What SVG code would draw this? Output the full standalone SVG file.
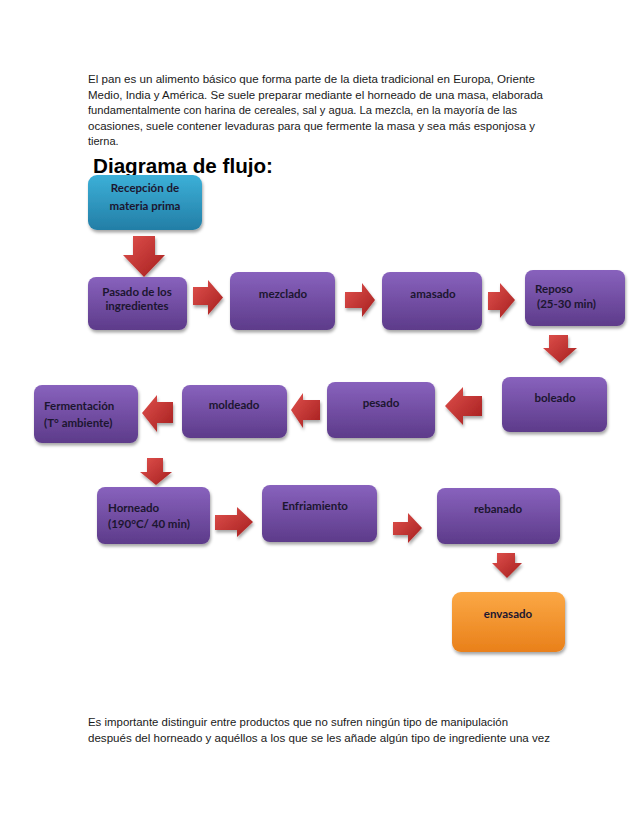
<svg xmlns="http://www.w3.org/2000/svg" width="638" height="826" viewBox="0 0 638 826">
<defs>
<linearGradient id="gp" x1="0" y1="0" x2="0" y2="1"><stop offset="0" stop-color="#8862bd"/><stop offset="1" stop-color="#5d3b8a"/></linearGradient>
<linearGradient id="gt" x1="0" y1="0" x2="0" y2="1"><stop offset="0" stop-color="#3cb0d8"/><stop offset="1" stop-color="#237ea6"/></linearGradient>
<linearGradient id="go" x1="0" y1="0" x2="0" y2="1"><stop offset="0" stop-color="#fba845"/><stop offset="1" stop-color="#e9801a"/></linearGradient>
<linearGradient id="gr" x1="0" y1="0" x2="1" y2="1"><stop offset="0" stop-color="#e0514d"/><stop offset="1" stop-color="#a51e1e"/></linearGradient>
<filter id="sh" x="-10%" y="-10%" width="125%" height="135%"><feDropShadow dx="1" dy="2.5" stdDeviation="1.5" flood-color="#000" flood-opacity="0.35"/></filter>
</defs>
<style>
.p{font-family:"Liberation Sans",Arial,sans-serif;font-size:11px;fill:#1a1a1a}
.h{font-family:"Liberation Sans",Arial,sans-serif;font-size:20px;font-weight:bold;fill:#000}
.b{fill:url(#gp);filter:url(#sh)}
.t{font-family:Lato,"Open Sans",sans-serif;font-size:11.5px;font-weight:bold;fill:#1c1630}
.c{text-anchor:middle}
.a{fill:url(#gr);filter:url(#sh)}
</style>
<rect width="638" height="826" fill="#fff"/>
<g id="intro">
<text class="p" x="88" y="83" textLength="447" lengthAdjust="spacingAndGlyphs">El pan es un alimento básico que forma parte de la dieta tradicional en Europa, Oriente</text>
<text class="p" x="88" y="98.6" textLength="455" lengthAdjust="spacingAndGlyphs">Medio, India y América. Se suele preparar mediante el horneado de una masa, elaborada</text>
<text class="p" x="88" y="114.2" textLength="429" lengthAdjust="spacingAndGlyphs">fundamentalmente con harina de cereales, sal y agua. La mezcla, en la mayoría de las</text>
<text class="p" x="88" y="129.8" textLength="447" lengthAdjust="spacingAndGlyphs">ocasiones, suele contener levaduras para que fermente la masa y sea más esponjosa y</text>
<text class="p" x="88" y="145.4">tierna.</text>
</g>
<text class="h" x="93" y="173" textLength="180" lengthAdjust="spacingAndGlyphs">Diagrama de flujo:</text>
<g id="connectors">
<path class="a" d="M133,236 H155 V255 H165 L144,277 L123,255 H133 Z"/>
<path class="a" d="M193,287 H208 V280 L223,297.5 L208,315 V305 H193 Z"/>
<path class="a" d="M345,292 H362 V283 L375,300 L362,317 V308 H345 Z"/>
<path class="a" d="M488,292 H500 V283 L515,300 L500,318 V310 H488 Z"/>
<path class="a" d="M549,335 H568 V348 H577 L560,363 L543,348 H549 Z"/>
<path class="a" d="M482,396 H463 V387 L445,406 L463,425 V416 H482 Z"/>
<path class="a" d="M320,400 H303 V393 L291,410 L303,428 V420 H320 Z"/>
<path class="a" d="M173,402 H157 V395 L142,413 L157,432 V423 H173 Z"/>
<path class="a" d="M147,458 H163 V472 H172 L156,485 L140,472 H147 Z"/>
<path class="a" d="M215,515 H237 V507 L253,522 L237,537 V530 H215 Z"/>
<path class="a" d="M393,522 H408 V513 L422,528 L408,543 V535 H393 Z"/>
<path class="a" d="M497,553 H515 V563 H522 L507,578 L492,563 H497 Z"/>
</g>
<g id="n1"><rect x="88" y="175" width="114" height="55" rx="9" fill="url(#gt)" filter="url(#sh)"/>
<text class="t c" x="145" y="192">Recepción de</text><text class="t c" x="145" y="210">materia prima</text></g>
<g id="n2"><rect class="b" x="88" y="277" width="99" height="53" rx="8"/>
<text class="t c" x="137" y="296">Pasado de los</text><text class="t c" x="137" y="310">ingredientes</text></g>
<g id="n3"><rect class="b" x="230" y="272" width="105" height="58" rx="8"/>
<text class="t c" x="283" y="298">mezclado</text></g>
<g id="n4"><rect class="b" x="382" y="272" width="100" height="58" rx="8"/>
<text class="t c" x="433" y="298">amasado</text></g>
<g id="n5"><rect class="b" x="525" y="270" width="100" height="56" rx="8"/>
<text class="t" x="535" y="293">Reposo</text><text class="t" x="537" y="308">(25-30 min)</text></g>
<g id="n6"><rect class="b" x="502" y="377" width="105" height="55" rx="8"/>
<text class="t c" x="555" y="402">boleado</text></g>
<g id="n7"><rect class="b" x="327" y="382" width="108" height="56" rx="8"/>
<text class="t c" x="381" y="407">pesado</text></g>
<g id="n8"><rect class="b" x="182" y="385" width="105" height="53" rx="8"/>
<text class="t c" x="234" y="409">moldeado</text></g>
<g id="n9"><rect class="b" x="34" y="385" width="104" height="58" rx="8"/>
<text class="t" x="44" y="410">Fermentación</text><text class="t" x="44" y="427">(T° ambiente)</text></g>
<g id="n10"><rect class="b" x="97" y="487" width="113" height="57" rx="8"/>
<text class="t" x="108" y="512">Horneado</text><text class="t" x="108" y="528">(190°C/ 40 min)</text></g>
<g id="n11"><rect class="b" x="262" y="485" width="115" height="57" rx="8"/>
<text class="t c" x="315" y="510">Enfriamiento</text></g>
<g id="n12"><rect class="b" x="437" y="488" width="123" height="56" rx="8"/>
<text class="t c" x="498" y="513">rebanado</text></g>
<g id="n13"><rect x="452" y="592" width="113" height="60" rx="9" fill="url(#go)" filter="url(#sh)"/>
<text class="t c" x="508" y="618">envasado</text></g>
<g id="outro">
<text class="p" x="88" y="726" textLength="420" lengthAdjust="spacingAndGlyphs">Es importante distinguir entre productos que no sufren ningún tipo de manipulación</text>
<text class="p" x="88" y="742" textLength="462" lengthAdjust="spacingAndGlyphs">después del horneado y aquéllos a los que se les añade algún tipo de ingrediente una vez</text>
</g>
</svg>
